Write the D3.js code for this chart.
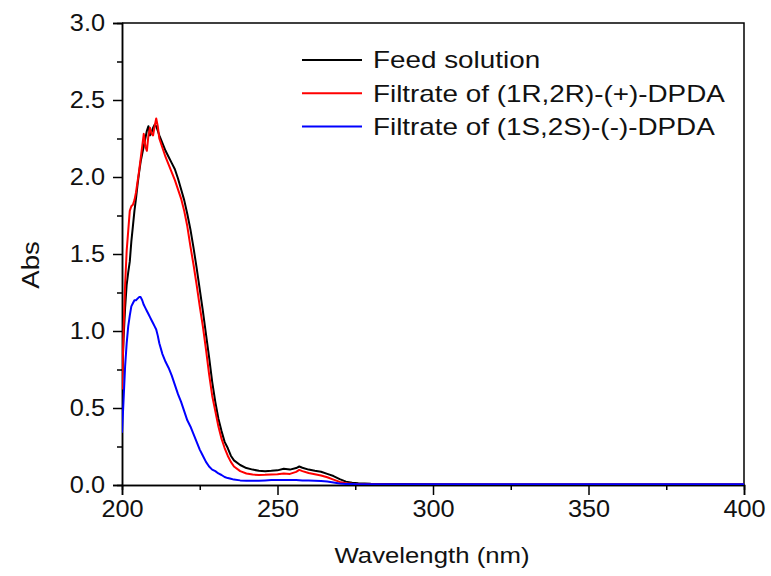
<!DOCTYPE html>
<html>
<head>
<meta charset="utf-8">
<script src="https://cdn.jsdelivr.net/npm/d3@7"></script>
<style>
  body { margin: 0; background: #fff; }
  text { font-family: 'Liberation Sans', Arial, sans-serif; fill: #111; }
</style>
</head>
<body>
<div id="chart"></div>
<script>
const wavelength = [200, 200.5, 201, 201.5, 202, 202.5, 203, 203.5, 204, 204.5, 205, 205.5, 206, 206.5, 207, 207.5, 208, 208.5, 209, 209.5, 210, 210.5, 211, 211.5, 212, 213, 214, 215, 216, 217, 218, 219, 220, 221, 222, 223, 224, 225, 226, 227, 228, 229, 230, 231, 232, 233, 234, 235, 236, 238, 240, 242, 244, 246, 248, 250, 252, 254, 256, 257, 258, 260, 262, 264, 266, 268, 270, 272, 274, 276, 278, 280, 290, 300, 320, 340, 360, 380, 400]

const feed = [0.66, 0.95, 1.15, 1.30, 1.38, 1.45, 1.58, 1.68, 1.78, 1.86, 1.95, 2.03, 2.10, 2.15, 2.20, 2.25, 2.30, 2.33, 2.27, 2.29, 2.32, 2.34, 2.33, 2.30, 2.27, 2.22, 2.17, 2.13, 2.09, 2.05, 1.99, 1.92, 1.85, 1.76, 1.66, 1.54, 1.41, 1.27, 1.13, 0.98, 0.83, 0.67, 0.54, 0.43, 0.35, 0.28, 0.24, 0.19, 0.16, 0.13, 0.11, 0.10, 0.092, 0.09, 0.092, 0.095, 0.105, 0.10, 0.11, 0.12, 0.112, 0.10, 0.092, 0.086, 0.072, 0.058, 0.038, 0.022, 0.015, 0.012, 0.010, 0.008, 0.006, 0.005, 0.004, 0.004, 0.004, 0.004, 0.004]

const filtrateRR = [0.62, 1.0, 1.30, 1.52, 1.65, 1.78, 1.81, 1.82, 1.85, 1.90, 1.97, 2.04, 2.12, 2.20, 2.28, 2.20, 2.17, 2.27, 2.32, 2.28, 2.27, 2.33, 2.38, 2.33, 2.25, 2.19, 2.13, 2.08, 2.03, 1.98, 1.92, 1.86, 1.78, 1.68, 1.55, 1.43, 1.30, 1.16, 1.03, 0.88, 0.72, 0.58, 0.48, 0.38, 0.30, 0.24, 0.19, 0.15, 0.12, 0.09, 0.075, 0.068, 0.065, 0.066, 0.068, 0.07, 0.075, 0.072, 0.085, 0.098, 0.09, 0.078, 0.07, 0.062, 0.05, 0.035, 0.02, 0.012, 0.008, 0.006, 0.005, 0.005, 0.004, 0.004, 0.004, 0.004, 0.004, 0.004, 0.004]

const filtrateSS = [0.34, 0.55, 0.77, 0.92, 1.03, 1.10, 1.16, 1.18, 1.20, 1.20, 1.21, 1.22, 1.22, 1.20, 1.17, 1.15, 1.13, 1.11, 1.09, 1.07, 1.05, 1.03, 1.01, 0.97, 0.92, 0.85, 0.80, 0.76, 0.71, 0.65, 0.59, 0.54, 0.48, 0.42, 0.38, 0.33, 0.28, 0.23, 0.19, 0.15, 0.12, 0.10, 0.09, 0.075, 0.065, 0.052, 0.045, 0.04, 0.035, 0.03, 0.028, 0.028, 0.028, 0.03, 0.032, 0.033, 0.033, 0.033, 0.032, 0.031, 0.03, 0.029, 0.028, 0.026, 0.022, 0.016, 0.01, 0.007, 0.006, 0.005, 0.005, 0.005, 0.005, 0.005, 0.005, 0.005, 0.005, 0.005, 0.005]

const seriesNames = ['Feed solution', 'Filtrate of (1R,2R)-(+)-DPDA', 'Filtrate of (1S,2S)-(-)-DPDA']
const seriesColors = ['#000000', '#ff0000', '#0000ff']
const seriesValues = [feed, filtrateRR, filtrateSS]

const xTicks = [200, 250, 300, 350, 400]
const xMinorTicks = [225, 275, 325, 375]
const yTicks = [0, 0.5, 1.0, 1.5, 2.0, 2.5, 3.0]
const yMinorTicks = [0.25, 0.75, 1.25, 1.75, 2.25, 2.75]

const margin = { top: 23, left: 122, right: 27, bottom: 91 }
const totalWidth = 771
const totalHeight = 576
const width = totalWidth - margin.left - margin.right
const height = totalHeight - margin.top - margin.bottom

const svg = d3
  .select('#chart')
  .append('svg')
  .attr('width', totalWidth)
  .attr('height', totalHeight)
  .append('g')
  .attr('transform', 'translate(' + margin.left + ',' + margin.top + ')')

const xPositionScale = d3.scaleLinear().domain([200, 400]).range([0, width])
const yPositionScale = d3.scaleLinear().domain([0, 3]).range([height, 0])

svg
  .append('clipPath')
  .attr('id', 'plot-clip')
  .append('rect')
  .attr('width', width)
  .attr('height', height)

// minor ticks first, majors drawn on top
const xMinor = d3.axisBottom(xPositionScale).tickValues(xMinorTicks).tickSize(5).tickFormat('')
svg
  .append('g')
  .attr('class', 'axis')
  .attr('transform', 'translate(0,' + height + ')')
  .call(xMinor)

const yMinor = d3.axisLeft(yPositionScale).tickValues(yMinorTicks).tickSize(5).tickFormat('')
svg.append('g').attr('class', 'axis').call(yMinor)

const xAxis = d3
  .axisBottom(xPositionScale)
  .tickValues(xTicks)
  .tickSize(10)
  .tickPadding(6)
  .tickFormat(d3.format('d'))
svg
  .append('g')
  .attr('class', 'axis x-axis')
  .attr('transform', 'translate(0,' + height + ')')
  .call(xAxis)

const yAxis = d3
  .axisLeft(yPositionScale)
  .tickValues(yTicks)
  .tickSize(9)
  .tickFormat(d3.format('.1f'))
svg.append('g').attr('class', 'axis y-axis').call(yAxis)

svg.selectAll('.axis path').attr('stroke', '#000').attr('stroke-width', 1.5)
svg.selectAll('.axis line').attr('stroke', '#000').attr('stroke-width', 1.5)
svg
  .selectAll('.x-axis text')
  .attr('font-size', 23)
  .attr('fill', '#111')
  .attr('transform', 'scale(1.1,1)')
svg
  .selectAll('.y-axis text')
  .attr('font-size', 23)
  .attr('fill', '#111')
  .attr('x', -17 / 1.1)
  .attr('transform', 'scale(1.1,1)')

// frame top and right
svg
  .append('path')
  .attr('d', 'M0,0H' + width + 'V' + height)
  .attr('fill', 'none')
  .attr('stroke', '#000')
  .attr('stroke-width', 1.5)

const line = d3
  .line()
  .x((d, i) => xPositionScale(wavelength[i]))
  .y(d => yPositionScale(d))

svg
  .append('g')
  .attr('clip-path', 'url(#plot-clip)')
  .selectAll('path')
  .data(seriesValues)
  .enter()
  .append('path')
  .attr('d', line)
  .attr('fill', 'none')
  .attr('stroke', (d, i) => seriesColors[i])
  .attr('stroke-width', 2)
  .attr('stroke-linejoin', 'round')

// axis titles
svg
  .append('text')
  .text('Wavelength (nm)')
  .attr('font-size', 23)
  .attr('text-anchor', 'middle')
  .attr('transform', 'translate(' + (432 - margin.left) + ',' + (563 - margin.top) + ') scale(1.12,1)')

svg
  .append('text')
  .text('Abs')
  .attr('font-size', 24)
  .attr('text-anchor', 'middle')
  .attr('transform', 'translate(' + (39 - margin.left) + ',' + (265 - margin.top) + ') rotate(-90) scale(1.15,1)')

// legend
const legend = svg
  .append('g')
  .selectAll('g')
  .data(seriesNames)
  .enter()
  .append('g')
  .attr('transform', (d, i) => 'translate(' + (302 - margin.left) + ',' + (60 + i * 33.3 - margin.top) + ')')

legend
  .append('line')
  .attr('x1', 0)
  .attr('x2', 60)
  .attr('stroke', (d, i) => seriesColors[i])
  .attr('stroke-width', 2)

legend
  .append('text')
  .text(d => d)
  .attr('font-size', 24)
  .attr('dy', '0.35em')
  .attr('transform', 'translate(71,0) scale(1.16,1)')
</script>
</body>
</html>
